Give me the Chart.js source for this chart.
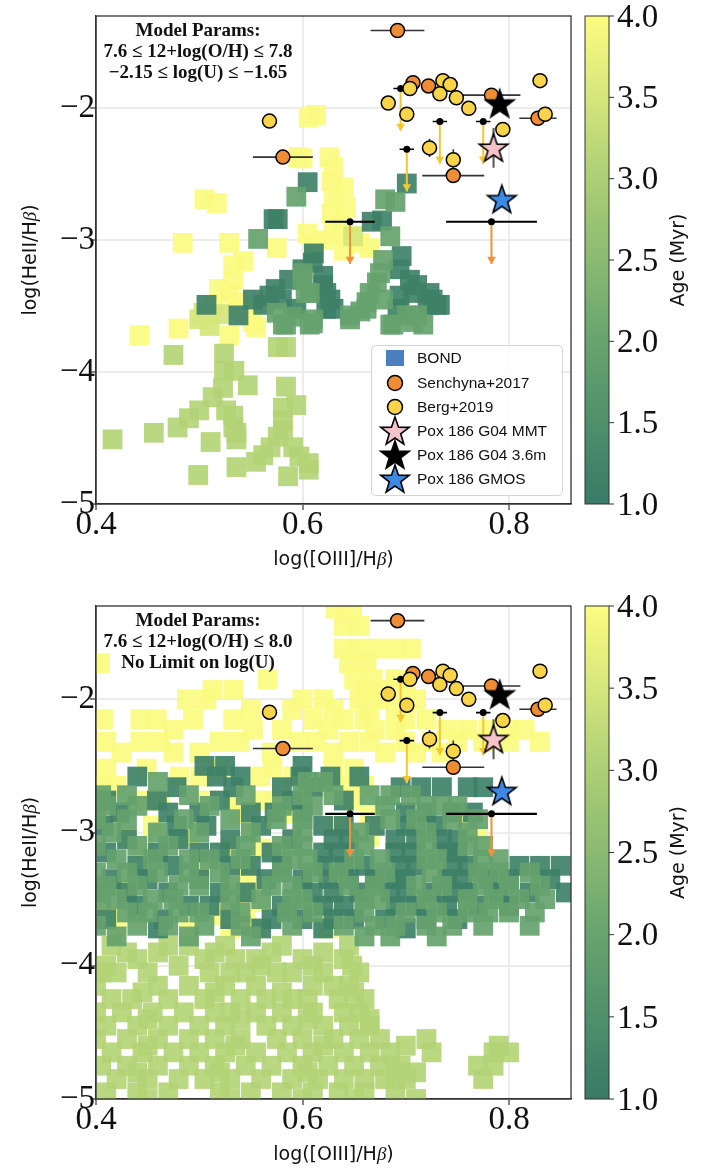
<!DOCTYPE html>
<html>
<head>
<meta charset="utf-8">
<script src="https://cdn.jsdelivr.net/npm/chart.js@4.4.1/dist/chart.umd.min.js"></script>
<style>
  html, body { margin: 0; padding: 0; background: #fff; }
  #top { position: absolute; left: 0; top: 0; width: 712px; height: 590px; }
  #bot { position: absolute; left: 0; top: 590px; width: 712px; height: 581px; }
</style>
</head>
<body>
<div id="top"><canvas id="c1"></canvas></div>
<div id="bot"><canvas id="c2"></canvas></div>
<script>
// axes: x = log([OIII]/Hb), y = log(HeII/Hb), colour = age (Myr)
const xTicks = [0.4, 0.6, 0.8];
const yTicks = [-5, -4, -3, -2];
const ageTicks = [1.0, 1.5, 2.0, 2.5, 3.0, 3.5, 4.0];

// Senchyna+2017
const senX = [0.692, 0.581, 0.707, 0.722, 0.783, 0.828, 0.746];
const senY = [-1.41, -2.37, -1.806, -1.83, -1.90, -2.075, -2.51];
const senXerr = [0.026, 0.029, 0, 0, 0.028, 0.018, 0.030];
const senLimX = [0.646, 0.783];
const senLimY = [-2.86, -2.86];
const senLimXerr = [0.024, 0.044];

// Berg+2019
const bergX = [0.568, 0.683, 0.701, 0.704, 0.736, 0.743, 0.733, 0.749, 0.761, 0.794, 0.830, 0.835, 0.723, 0.746];
const bergY = [-2.097, -1.96, -2.045, -1.85, -1.79, -1.82, -1.89, -1.92, -2.00, -2.16, -1.79, -2.045, -2.30, -2.39];
const bergYerr = [0, 0, 0, 0, 0, 0, 0, 0, 0, 0, 0, 0, 0.07, 0.08];
const bergLimX = [0.695, 0.701, 0.733, 0.775];
const bergLimY = [-1.85, -2.31, -2.10, -2.10];

// Pox 186
const poxMMT = [0.785, -2.30, 0.15];
const pox36m = [0.791, -1.965, 0];
const poxGMOS = [0.793, -2.69, 0.05];

// BOND grid, top panel (age groups)
const topYellow = [[0.606,-2.07],[0.613,-2.05],[0.596,-2.37],[0.600,-2.38],[0.626,-2.37],[0.630,-2.45],[0.628,-2.55],[0.640,-2.60],[0.630,-2.68],[0.642,-2.75],[0.628,-2.80],[0.637,-2.88],[0.630,-2.95],[0.645,-2.97],[0.620,-3.00],[0.610,-3.03],[0.605,-2.95],[0.655,-3.02],[0.665,-3.06],[0.640,-3.08],
  [0.505,-2.69],[0.517,-2.72],[0.484,-3.02],[0.529,-3.02],[0.575,-3.06],[0.533,-3.19],[0.543,-3.16],[0.533,-3.30],[0.519,-3.37],[0.529,-3.40],[0.536,-3.47],[0.513,-3.49],[0.536,-3.49],[0.542,-3.52],[0.548,-3.57],[0.552,-3.62],[0.555,-3.66],[0.529,-3.72],[0.480,-3.67],[0.442,-3.72]];
const topLime = [[0.500,-3.60],[0.510,-3.65],[0.519,-3.56],[0.504,-3.55],[0.649,-2.97]];
const topDark = [[0.605,-2.56],[0.572,-2.84],[0.576,-2.84],[0.611,-3.10],[0.701,-2.57],[0.677,-2.85],[0.667,-2.86],[0.696,-3.12],[0.694,-3.22],[0.704,-3.30],[0.711,-3.34],[0.723,-3.40],[0.730,-3.49],[0.721,-3.49],[0.692,-3.52],[0.694,-3.42],[0.707,-3.40],[0.726,-3.45],[0.733,-3.49],
  [0.620,-3.34],[0.627,-3.45],[0.630,-3.52],[0.574,-3.37],[0.568,-3.42],[0.587,-3.30],[0.600,-3.22],[0.620,-3.27],[0.623,-3.40],[0.594,-3.52],[0.623,-3.52],[0.552,-3.45],[0.538,-3.57],[0.507,-3.49],[0.562,-3.49],[0.580,-3.45],[0.610,-3.17]];
const topMid = [[0.594,-2.67],[0.557,-2.99],[0.680,-2.69],[0.690,-2.71],[0.685,-2.97],[0.678,-3.15],[0.675,-3.25],[0.672,-3.32],[0.665,-3.40],[0.662,-3.47],[0.656,-3.54],[0.646,-3.60],[0.711,-3.57],[0.707,-3.62],[0.685,-3.64],[0.600,-3.25],[0.607,-3.40],[0.610,-3.60],[0.607,-3.64],[0.646,-3.57],[0.662,-3.52],[0.678,-3.45],[0.688,-3.64],[0.701,-3.57],[0.717,-3.64],[0.581,-3.64],[0.600,-3.30],[0.603,-3.40],[0.584,-3.64],[0.610,-3.63],[0.590,-3.58],[0.575,-3.55]];
const topLight = [[0.475,-3.87],[0.524,-3.86],[0.576,-3.81],[0.584,-3.81],[0.524,-3.99],[0.534,-3.99],[0.523,-4.12],[0.547,-4.10],[0.584,-4.11],[0.513,-4.19],[0.526,-4.29],[0.533,-4.33],[0.500,-4.29],[0.490,-4.35],[0.479,-4.42],[0.533,-4.42],[0.536,-4.46],[0.456,-4.46],[0.416,-4.51],[0.511,-4.53],[0.536,-4.51],[0.581,-4.27],[0.594,-4.25],[0.581,-4.37],[0.581,-4.44],[0.576,-4.49],[0.569,-4.57],[0.562,-4.63],[0.555,-4.68],[0.591,-4.57],[0.597,-4.64],[0.606,-4.69],[0.606,-4.74],[0.536,-4.72],[0.499,-4.78],[0.586,-4.79]];

// BOND grid, bottom panel: rows of [y, [x...]]
const botYellow = [
  [-1.32, [0.632, 0.648]],
  [-1.45, [0.640, 0.655]],
  [-1.62, [0.640, 0.655, 0.672, 0.690, 0.705]],
  [-1.73, [0.404, 0.645, 0.662]],
  [-1.85, [0.566, 0.650, 0.668, 0.690]],
  [-1.93, [0.513, 0.533, 0.660, 0.678, 0.700]],
  [-2.00, [0.488, 0.507, 0.600, 0.620, 0.655, 0.675, 0.710]],
  [-2.08, [0.550, 0.590, 0.630, 0.665, 0.690]],
  [-2.15, [0.407, 0.443, 0.459, 0.494, 0.533, 0.610, 0.640, 0.660, 0.700, 0.720]],
  [-2.23, [0.475, 0.552, 0.580, 0.625, 0.670, 0.690, 0.740, 0.760, 0.780, 0.800, 0.815]],
  [-2.32, [0.410, 0.443, 0.462, 0.520, 0.539, 0.597, 0.613, 0.645, 0.665, 0.700, 0.725, 0.750, 0.775, 0.800, 0.830]],
  [-2.40, [0.425, 0.475, 0.500, 0.570, 0.630, 0.680, 0.710, 0.735]],
  [-2.52, [0.410, 0.449, 0.520, 0.571, 0.630, 0.650]],
  [-2.58, [0.481, 0.501, 0.559, 0.591]],
  [-2.65, [0.404, 0.420, 0.627, 0.645, 0.660]],
  [-2.76, [0.443, 0.462, 0.507, 0.533, 0.559, 0.575, 0.650]],
  [-2.86, [0.410, 0.540, 0.590, 0.665]],
  [-2.95, [0.455, 0.550, 0.635, 0.760]],
  [-3.03, [0.430, 0.490, 0.665, 0.770]],
  [-3.12, [0.445, 0.530, 0.560]],
  [-3.25, [0.505, 0.545]],
  [-3.40, [0.410, 0.425, 0.540, 0.555]],
  [-3.52, [0.405, 0.430, 0.530, 0.550, 0.560]],
  [-3.62, [0.415, 0.440, 0.520, 0.545, 0.630]],
  [-3.72, [0.420, 0.490, 0.530, 0.555, 0.625]]
];
const botMid = [
  [-2.62, [0.460, 0.605, 0.620]],
  [-2.72, [0.405, 0.430, 0.490, 0.545, 0.600, 0.630, 0.665, 0.685, 0.705]],
  [-2.80, [0.410, 0.440, 0.510, 0.580, 0.610, 0.680, 0.720, 0.735, 0.750]],
  [-2.90, [0.400, 0.430, 0.485, 0.530, 0.575, 0.600, 0.685, 0.710, 0.745, 0.770]],
  [-3.00, [0.415, 0.460, 0.500, 0.550, 0.600, 0.655, 0.720, 0.760]],
  [-3.10, [0.400, 0.440, 0.470, 0.545, 0.580, 0.600, 0.660, 0.720, 0.760, 0.775]],
  [-3.20, [0.420, 0.455, 0.490, 0.510, 0.540, 0.590, 0.605, 0.650, 0.675, 0.720, 0.730, 0.775, 0.790]],
  [-3.30, [0.400, 0.430, 0.460, 0.490, 0.520, 0.580, 0.610, 0.635, 0.680, 0.725, 0.770, 0.790, 0.820]],
  [-3.40, [0.410, 0.440, 0.480, 0.500, 0.530, 0.570, 0.590, 0.645, 0.670, 0.710, 0.735, 0.775, 0.800, 0.830]],
  [-3.50, [0.405, 0.420, 0.455, 0.475, 0.530, 0.560, 0.590, 0.600, 0.660, 0.675, 0.720, 0.760, 0.785, 0.810, 0.835]],
  [-3.60, [0.430, 0.450, 0.480, 0.500, 0.540, 0.585, 0.610, 0.660, 0.700, 0.730, 0.760, 0.780, 0.800, 0.825]],
  [-3.70, [0.400, 0.440, 0.470, 0.505, 0.540, 0.590, 0.640, 0.670, 0.690, 0.720, 0.745, 0.775, 0.820]],
  [-3.78, [0.420, 0.490, 0.550, 0.660, 0.685, 0.730]]
];
const botDark = [
  [-2.50, [0.505, 0.525, 0.600]],
  [-2.58, [0.440, 0.517, 0.540, 0.598, 0.627, 0.655]],
  [-2.66, [0.478, 0.533, 0.580, 0.610, 0.695, 0.715, 0.735, 0.760, 0.775]],
  [-2.76, [0.410, 0.459, 0.520, 0.590, 0.640]],
  [-2.85, [0.423, 0.470, 0.500, 0.550, 0.573, 0.600, 0.700, 0.720, 0.745, 0.765]],
  [-2.95, [0.407, 0.478, 0.507, 0.560, 0.620, 0.640, 0.670, 0.700, 0.730]],
  [-3.05, [0.430, 0.480, 0.530, 0.590, 0.630, 0.645, 0.690, 0.710, 0.735, 0.750]],
  [-3.15, [0.410, 0.460, 0.500, 0.520, 0.570, 0.620, 0.635, 0.690, 0.705, 0.740, 0.750]],
  [-3.25, [0.440, 0.475, 0.530, 0.550, 0.580, 0.620, 0.640, 0.660, 0.695, 0.710, 0.745, 0.760, 0.810, 0.830, 0.850]],
  [-3.35, [0.415, 0.450, 0.500, 0.565, 0.600, 0.625, 0.645, 0.670, 0.690, 0.700, 0.740, 0.755, 0.780, 0.800, 0.840]],
  [-3.45, [0.400, 0.430, 0.470, 0.520, 0.545, 0.610, 0.630, 0.655, 0.685, 0.700, 0.725, 0.745, 0.760, 0.790, 0.820, 0.855]],
  [-3.55, [0.440, 0.490, 0.510, 0.580, 0.620, 0.640, 0.690, 0.710, 0.740, 0.770, 0.800]],
  [-3.65, [0.410, 0.465, 0.530, 0.570, 0.600, 0.630, 0.650, 0.680, 0.720, 0.750]],
  [-3.72, [0.460, 0.560, 0.620, 0.700]]
];
const botLight = [
  [-3.85, [0.415, 0.470, 0.490, 0.525, 0.580, 0.645]],
  [-3.90, [0.430, 0.460, 0.515, 0.570, 0.620]],
  [-3.95, [0.440, 0.505, 0.535, 0.555, 0.600, 0.640]],
  [-4.00, [0.410, 0.480, 0.560, 0.610, 0.648]],
  [-4.05, [0.405, 0.420, 0.450, 0.510, 0.530, 0.545, 0.575, 0.590, 0.620, 0.655]],
  [-4.15, [0.400, 0.460, 0.490, 0.525, 0.555, 0.610, 0.630, 0.645]],
  [-4.20, [0.445, 0.515, 0.580, 0.650]],
  [-4.25, [0.415, 0.435, 0.470, 0.505, 0.540, 0.565, 0.590, 0.605, 0.635, 0.660]],
  [-4.35, [0.400, 0.425, 0.455, 0.485, 0.515, 0.530, 0.555, 0.580, 0.610, 0.640, 0.655]],
  [-4.40, [0.450, 0.540, 0.605, 0.665]],
  [-4.45, [0.410, 0.440, 0.470, 0.500, 0.525, 0.565, 0.590, 0.620, 0.645, 0.665]],
  [-4.55, [0.400, 0.430, 0.460, 0.490, 0.515, 0.540, 0.575, 0.600, 0.630, 0.655, 0.675, 0.720]],
  [-4.60, [0.450, 0.535, 0.620, 0.700, 0.790]],
  [-4.65, [0.415, 0.445, 0.475, 0.500, 0.525, 0.555, 0.585, 0.610, 0.640, 0.665, 0.685, 0.725, 0.785, 0.800]],
  [-4.75, [0.405, 0.430, 0.460, 0.490, 0.515, 0.545, 0.570, 0.600, 0.625, 0.650, 0.675, 0.695, 0.770, 0.785]],
  [-4.80, [0.440, 0.520, 0.605, 0.690, 0.710]],
  [-4.85, [0.420, 0.450, 0.480, 0.505, 0.530, 0.560, 0.590, 0.615, 0.640, 0.660, 0.680, 0.700, 0.775]],
  [-4.95, [0.410, 0.440, 0.470, 0.520, 0.550, 0.580, 0.610, 0.635, 0.660, 0.690]],
  [-5.00, [0.450, 0.530, 0.600, 0.650, 0.710]]
];

const cmapStops = [[1.0, [55, 123, 103]], [2.0, [103, 164, 110]], [3.0, [172, 207, 117]], [4.0, [253, 252, 128]]];
const SEN_COLOR = '#ef8d34';
const BERG_COLOR = '#f8d449';
const LIMIT_ARROW = 0.32;

function cmap(age) {
  const a = Math.max(1, Math.min(4, age));
  for (let i = 0; i < cmapStops.length - 1; i++) {
    const [a0, c0] = cmapStops[i], [a1, c1] = cmapStops[i + 1];
    if (a <= a1) {
      const t = (a - a0) / (a1 - a0);
      return c0.map((v, k) => Math.round(v + (c1[k] - v) * t));
    }
  }
  return cmapStops[cmapStops.length - 1][1];
}
const rgba = (c, a) => `rgba(${c[0]},${c[1]},${c[2]},${a})`;

function rowsToPoints(rows) {
  const out = [];
  rows.forEach(r => r[1].forEach(x => out.push([x, r[0]])));
  return out;
}

function starImage(fill, r) {
  const s = Math.ceil(r * 2 + 4);
  const c = document.createElement('canvas');
  c.width = s; c.height = s;
  const g = c.getContext('2d');
  g.beginPath();
  for (let i = 0; i < 10; i++) {
    const rr = i % 2 ? r * 0.4 : r;
    const ang = -Math.PI / 2 + i * Math.PI / 5;
    g.lineTo(s / 2 + rr * Math.cos(ang), s / 2 + 1 + rr * Math.sin(ang));
  }
  g.closePath();
  g.fillStyle = fill; g.fill();
  g.lineWidth = 1.6; g.strokeStyle = '#000'; g.stroke();
  return c;
}
const starPink = starImage('#f5c3c9', 15);
const starBlack = starImage('#000', 15);
const starBlue = starImage('#3d8ae6', 15);

function squareSet(points, age, order) {
  return {
    type: 'scatter',
    data: points.map(p => ({ x: p[0], y: p[1] })),
    pointStyle: 'rect', pointRadius: 14, pointHoverRadius: 14,
    backgroundColor: rgba(cmap(age), 0.92), borderWidth: 0,
    order: order, clip: 0
  };
}

function segSet(data, color, width, order) {
  return {
    type: 'line', data: data, showLine: true, spanGaps: false,
    borderColor: color, borderWidth: width, pointRadius: 0, fill: false,
    order: order
  };
}

function hBars(xs, ys, errs) {
  const d = [];
  xs.forEach((x, i) => {
    if (errs[i] > 0) d.push({ x: x - errs[i], y: ys[i] }, { x: x + errs[i], y: ys[i] }, { x: x, y: null });
  });
  return d;
}
function vBars(xs, ys, errs) {
  const d = [];
  xs.forEach((x, i) => {
    if (errs[i] > 0) d.push({ x: x, y: ys[i] - errs[i] }, { x: x, y: ys[i] + errs[i] }, { x: x, y: null });
  });
  return d;
}
function shafts(xs, ys) {
  const d = [];
  xs.forEach((x, i) => d.push({ x: x, y: ys[i] }, { x: x, y: ys[i] - LIMIT_ARROW }, { x: x, y: null }));
  return d;
}

function obsDatasets() {
  const pts = (xs, ys) => xs.map((x, i) => ({ x: x, y: ys[i] }));
  return [
    segSet(hBars(senX, senY, senXerr), '#333', 1.6, 6),
    segSet(vBars(bergX, bergY, bergYerr), '#333', 1.6, 6),
    segSet(hBars(senLimX, senLimY, senLimXerr), '#000', 2.2, 6),
    segSet(hBars(bergLimX, bergLimY, bergLimX.map(() => 0.007)), '#000', 1.6, 6),
    segSet(vBars([poxMMT[0], poxGMOS[0]], [poxMMT[1], poxGMOS[1]], [poxMMT[2], poxGMOS[2]]), '#555', 2, 6),
    segSet(shafts(senLimX, senLimY), '#f0923a', 2, 5),
    segSet(shafts(bergLimX, bergLimY), '#f6c632', 2, 5),
    { type: 'scatter', data: senLimX.map((x, i) => ({ x: x, y: senLimY[i] - LIMIT_ARROW + 0.035 })),
      pointStyle: 'triangle', rotation: 180, pointRadius: 5, backgroundColor: '#f0923a', borderWidth: 0, order: 5 },
    { type: 'scatter', data: bergLimX.map((x, i) => ({ x: x, y: bergLimY[i] - LIMIT_ARROW + 0.035 })),
      pointStyle: 'triangle', rotation: 180, pointRadius: 5, backgroundColor: '#f6c632', borderWidth: 0, order: 5 },
    { type: 'scatter', data: pts(senLimX.concat(bergLimX), senLimY.concat(bergLimY)),
      pointStyle: 'circle', pointRadius: 3.5, backgroundColor: '#000', borderWidth: 0, order: 4 },
    { type: 'scatter', data: pts(senX, senY), pointStyle: 'circle', pointRadius: 7,
      backgroundColor: SEN_COLOR, borderColor: '#000', borderWidth: 1.5, order: 3 },
    { type: 'scatter', data: pts(bergX, bergY), pointStyle: 'circle', pointRadius: 7,
      backgroundColor: BERG_COLOR, borderColor: '#000', borderWidth: 1.5, order: 2 },
    { type: 'scatter', data: [{ x: poxMMT[0], y: poxMMT[1] }], pointStyle: starPink, pointRadius: 15, order: 1 },
    { type: 'scatter', data: [{ x: pox36m[0], y: pox36m[1] }], pointStyle: starBlack, pointRadius: 15, order: 1 },
    { type: 'scatter', data: [{ x: poxGMOS[0], y: poxGMOS[1] }], pointStyle: starBlue, pointRadius: 15, order: 1 }
  ];
}

function drawMixed(ctx, parts, x, y) {
  let w = 0;
  parts.forEach(p => { ctx.font = p[1]; w += ctx.measureText(p[0]).width; });
  let cx = x - w / 2;
  ctx.textAlign = 'left';
  parts.forEach(p => { ctx.font = p[1]; ctx.fillText(p[0], cx, y); cx += ctx.measureText(p[0]).width; });
}

const SANS = '19px "DejaVu Sans"';
const BETA = 'italic 19px "Liberation Serif"';

const decor = {
  id: 'decor',
  afterDraw(chart, args, opts) {
    const ctx = chart.ctx, a = chart.chartArea;
    ctx.save();
    ctx.strokeStyle = '#333'; ctx.lineWidth = 1.3;
    ctx.strokeRect(a.left, a.top, a.right - a.left, a.bottom - a.top);

    // model params note
    ctx.fillStyle = '#111';
    ctx.font = 'bold 19px "Liberation Serif"';
    ctx.textAlign = 'center'; ctx.textBaseline = 'alphabetic';
    opts.note.forEach((t, i) => ctx.fillText(t, 198, 36 + i * 21));

    // axis titles
    const cxm = (a.left + a.right) / 2, cym = (a.top + a.bottom) / 2;
    drawMixed(ctx, [['log([OIII]/H', SANS], ['\u03b2', BETA], [')', SANS]], cxm, a.bottom + 61);
    ctx.save();
    ctx.translate(36, cym); ctx.rotate(-Math.PI / 2);
    drawMixed(ctx, [['log(HeII/H', SANS], ['\u03b2', BETA], [')', SANS]], 0, 0);
    ctx.restore();

    // colour bar
    const bx0 = 585, bx1 = 609;
    const g = ctx.createLinearGradient(0, a.bottom, 0, a.top);
    for (let v = 1; v <= 4.001; v += 0.25) g.addColorStop((v - 1) / 3, rgba(cmap(v), 1));
    ctx.fillStyle = g;
    ctx.fillRect(bx0, a.top, bx1 - bx0, a.bottom - a.top);
    ctx.strokeStyle = '#333'; ctx.lineWidth = 1;
    ctx.strokeRect(bx0, a.top, bx1 - bx0, a.bottom - a.top);
    ctx.fillStyle = '#111';
    ctx.font = '33px "Liberation Serif"';
    ctx.textAlign = 'left'; ctx.textBaseline = 'middle';
    ageTicks.forEach(v => {
      const py = a.bottom - (v - 1) / 3 * (a.bottom - a.top);
      ctx.beginPath(); ctx.moveTo(bx1, py); ctx.lineTo(bx1 + 5, py); ctx.stroke();
      ctx.fillText(v.toFixed(1), 617, py + 2);
    });
    ctx.textBaseline = 'alphabetic';
    ctx.save();
    ctx.translate(684, cym); ctx.rotate(-Math.PI / 2);
    ctx.font = SANS; ctx.textAlign = 'center';
    ctx.fillText('Age (Myr)', 0, 0);
    ctx.restore();

    if (opts.legend) drawLegend(ctx);
    ctx.restore();
  }
};

function drawLegend(ctx) {
  ctx.save();
  ctx.beginPath();
  ctx.roundRect(371.5, 345.5, 191, 150, 4);
  ctx.fillStyle = 'rgba(255,255,255,0.85)'; ctx.fill();
  ctx.strokeStyle = '#d5d5d5'; ctx.lineWidth = 1; ctx.stroke();
  const mx = 395, tx = 417;
  const rows = [358, 383, 407, 431, 455, 479];
  const labels = ['BOND', 'Senchyna+2017', 'Berg+2019', 'Pox 186 G04 MMT', 'Pox 186 G04 3.6m', 'Pox 186 GMOS'];
  ctx.fillStyle = '#4a80bd';
  ctx.fillRect(mx - 9, rows[0] - 8, 18, 16);
  [[rows[1], SEN_COLOR], [rows[2], BERG_COLOR]].forEach(r => {
    ctx.beginPath(); ctx.arc(mx, r[0], 7.5, 0, Math.PI * 2);
    ctx.fillStyle = r[1]; ctx.fill();
    ctx.lineWidth = 1.5; ctx.strokeStyle = '#000'; ctx.stroke();
  });
  [starPink, starBlack, starBlue].forEach((img, i) => {
    ctx.drawImage(img, mx - img.width / 2, rows[3 + i] - img.height / 2);
  });
  ctx.fillStyle = '#111';
  ctx.font = '15.5px "Liberation Sans"';
  ctx.textAlign = 'left'; ctx.textBaseline = 'middle';
  labels.forEach((t, i) => ctx.fillText(t, tx, rows[i] + 1));
  ctx.restore();
}

function makeChart(id, height, areaTop, areaBottom, groups, note, legend) {
  const datasets = [
    squareSet(groups.yellow, 3.97, 14),
    squareSet(groups.lime, 3.5, 13),
    squareSet(groups.light, 3.1, 13),
    squareSet(groups.dark, 1.15, 12),
    squareSet(groups.mid, 1.95, 11)
  ].concat(obsDatasets());

  const axisFont = { family: 'Liberation Serif', size: 33 };
  return new Chart(document.getElementById(id), {
    type: 'scatter',
    data: { datasets: datasets },
    options: {
      responsive: true,
      maintainAspectRatio: false,
      animation: false,
      events: [],
      layout: { padding: { left: 0, top: areaTop, right: 141, bottom: 0 } },
      plugins: {
        legend: { display: false },
        tooltip: { enabled: false },
        decor: { note: note, legend: legend }
      },
      scales: {
        x: {
          type: 'linear', min: 0.4, max: 0.86,
          afterBuildTicks: s => { s.ticks = xTicks.map(v => ({ value: v })); },
          afterFit: s => { s.height = height - areaBottom; },
          ticks: { font: axisFont, color: '#111', padding: -4, maxRotation: 0, autoSkip: false,
                   callback: v => v.toFixed(1) },
          grid: { color: '#ececec', lineWidth: 2, tickLength: 6, tickColor: '#333', tickWidth: 1.2 },
          border: { color: '#333', width: 1.3 }
        },
        y: {
          type: 'linear', min: -5, max: -1.3,
          afterBuildTicks: s => { s.ticks = yTicks.map(v => ({ value: v })); },
          afterFit: s => { s.width = 96; },
          ticks: { font: axisFont, color: '#111', padding: -5, autoSkip: false,
                   callback: v => '\u2212' + Math.abs(v) },
          grid: { color: '#ececec', lineWidth: 2, tickLength: 6, tickColor: '#333', tickWidth: 1.2 },
          border: { color: '#333', width: 1.3 }
        }
      }
    },
    plugins: [decor]
  });
}

makeChart('c1', 590, 10, 504,
  { yellow: topYellow, lime: topLime, light: topLight, mid: topMid, dark: topDark },
  ['Model Params:', '7.6 \u2264 12+log(O/H) \u2264 7.8', '\u22122.15 \u2264 log(U) \u2264 \u22121.65'], true);

makeChart('c2', 581, 14, 509,
  { yellow: rowsToPoints(botYellow), lime: [], light: rowsToPoints(botLight), mid: rowsToPoints(botMid), dark: rowsToPoints(botDark) },
  ['Model Params:', '7.6 \u2264 12+log(O/H) \u2264 8.0', 'No Limit on log(U)'], false);
</script>
</body>
</html>
